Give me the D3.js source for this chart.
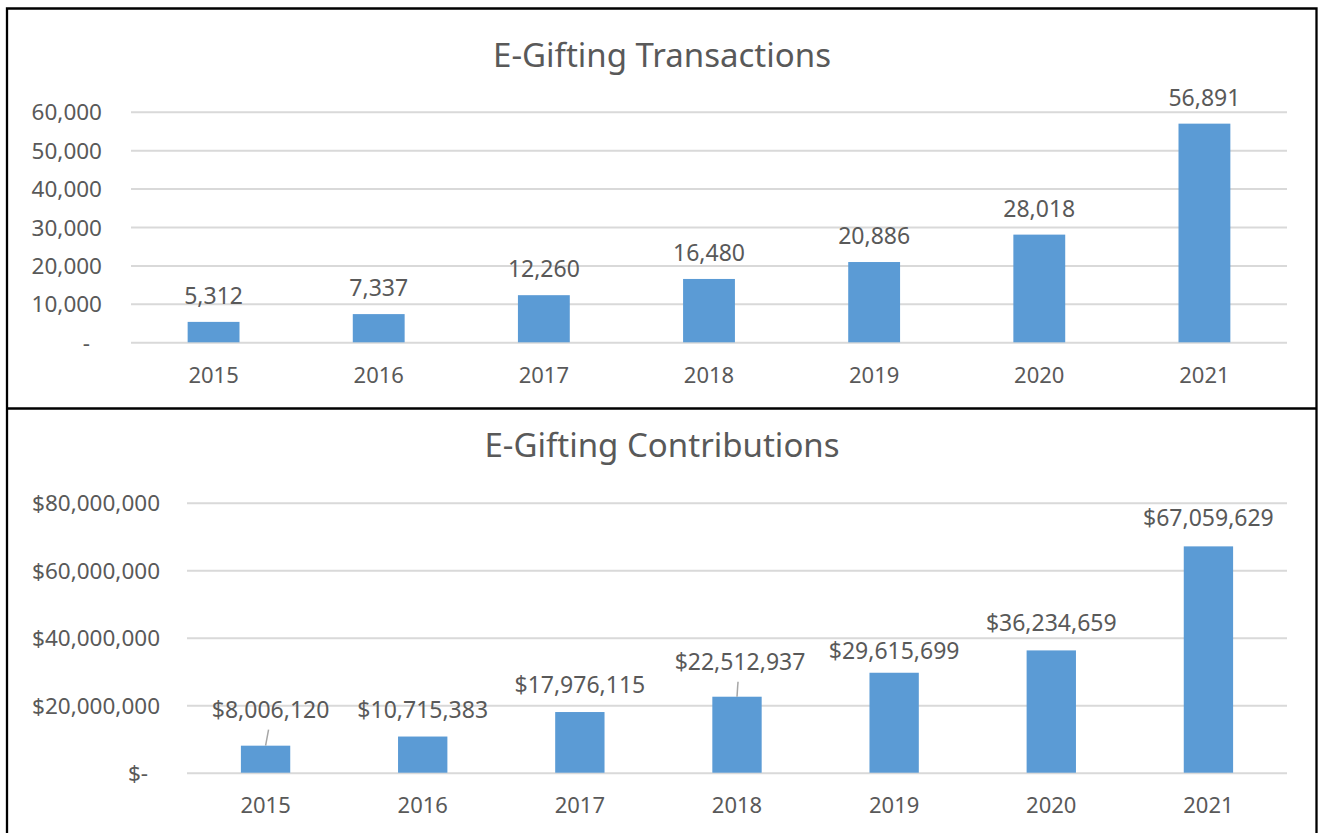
<!DOCTYPE html>
<html lang="en">

<head>
    <meta charset="UTF-8">
    <title>E-Gifting</title>
    <style>
        body { margin: 0; background: #fff; }
        svg text { font-family: "Noto Sans", "Open Sans", sans-serif; fill: #595959; }
    </style>
</head>

<body>

    <svg id="chart" width="1321" height="833"></svg>

    <script src="https://d3js.org/d3.v7.min.js"></script>

    <script>

        // data

        var years = ["2015", "2016", "2017", "2018", "2019", "2020", "2021"];
        var transactions = [5312, 7337, 12260, 16480, 20886, 28018, 56891];
        var contributions = [8006120, 10715383, 17976115, 22512937, 29615699, 36234659, 67059629];
        var transactionTicks = [0, 10000, 20000, 30000, 40000, 50000, 60000];
        var contributionTicks = [0, 20000000, 40000000, 60000000, 80000000];

        var svg = d3.select("#chart");
        var comma = d3.format(",");

        // panel borders
        svg.append("rect").attr("x", 0).attr("y", 0).attr("width", 1321).attr("height", 833).attr("fill", "#fff");
        svg.append("path")
            .attr("d", "M7,850 L7,8.5 L1316.5,8.5 L1316.5,850 M7,408.5 L1316.5,408.5")
            .attr("fill", "none")
            .attr("stroke", "#000")
            .attr("stroke-width", 2.3);

        // draws one bar chart
        function drawChart(c) {
            var g = svg.append("g");

            var x = d3.scaleBand()
                .domain(years)
                .range([c.left, c.right])
                .paddingInner(0.686)
                .paddingOuter(0.343);

            var y = d3.scaleLinear()
                .domain([0, c.max])
                .range([c.bottom, c.top]);

            // title
            g.append("text")
                .attr("x", 662)
                .attr("y", c.titleY)
                .attr("text-anchor", "middle")
                .style("font-size", "33px")
                .text(c.title);

            // y axis: gridlines and labels
            var yAxis = d3.axisLeft(y)
                .tickValues(c.ticks)
                .tickSize(-(c.right - c.left))
                .tickPadding(c.left - c.labelRight)
                .tickFormat(c.tickFormat);

            var ya = g.append("g")
                .attr("transform", "translate(" + c.left + ",0)")
                .call(yAxis);
            ya.select(".domain").remove();
            ya.selectAll("line").attr("stroke", "#d9d9d9").attr("stroke-width", 2);
            ya.selectAll("text")
                .style("font-size", "22.5px")
                .attr("dy", "0.36em")
                .attr("dx", function(d) { return d === 0 ? -12 : 0; });

            // x axis labels
            var xAxis = d3.axisBottom(x).tickSize(0).tickPadding(0);
            var xa = g.append("g")
                .attr("transform", "translate(0," + c.bottom + ")")
                .call(xAxis);
            xa.select(".domain").remove();
            xa.selectAll("text")
                .attr("dy", null)
                .attr("y", c.catY - c.bottom)
                .style("font-size", "22px");

            var rows = years.map(function(yr, i) { return { year: yr, value: c.values[i] }; });

            // bars
            g.selectAll("rect.bar")
                .data(rows)
                .enter().append("rect")
                .attr("class", "bar")
                .attr("x", function(d) { return x(d.year); })
                .attr("width", x.bandwidth())
                .attr("y", function(d) { return y(d.value); })
                .attr("height", function(d) { return c.bottom - y(d.value); })
                .attr("fill", "#5b9bd5");

            // leader lines for the labels that were dragged up
            function nudge(d) { return c.nudges[d.year] || {}; }
            function lift(d) { var n = nudge(d); return n.lift != null ? n.lift : c.lift; }
            function lx(d) { return x(d.year) + x.bandwidth() / 2 + (nudge(d).dx || 0); }

            g.selectAll("line.leader")
                .data(rows.filter(function(d) { return nudge(d).leader; }))
                .enter().append("line")
                .attr("class", "leader")
                .attr("x1", function(d) { return lx(d) - 2; })
                .attr("y1", function(d) { return y(d.value) - lift(d) + 12; })
                .attr("x2", function(d) { return x(d.year) + x.bandwidth() / 2; })
                .attr("y2", function(d) { return y(d.value); })
                .attr("stroke", "#a6a6a6")
                .attr("stroke-width", 1.5);

            // data labels
            g.selectAll("text.value")
                .data(rows)
                .enter().append("text")
                .attr("class", "value")
                .attr("x", lx)
                .attr("y", function(d) { return y(d.value) - lift(d); })
                .attr("text-anchor", "middle")
                .style("font-size", "23px")
                .text(function(d) { return c.labelFormat(d.value); });
        }

        drawChart({
            title: "E-Gifting Transactions",
            titleY: 67,
            values: transactions,
            ticks: transactionTicks,
            max: 60000,
            left: 131, right: 1287,
            top: 111.7, bottom: 342.3,
            labelRight: 102,
            catY: 383,
            lift: 18,
            nudges: {},
            tickFormat: function(v) { return v === 0 ? "-" : comma(v); },
            labelFormat: function(v) { return comma(v); }
        });

        drawChart({
            title: "E-Gifting Contributions",
            titleY: 457,
            values: contributions,
            ticks: contributionTicks,
            max: 80000000,
            left: 187, right: 1287,
            top: 502.7, bottom: 772.7,
            labelRight: 160,
            catY: 813,
            lift: 19,
            nudges: {
                "2015": { dx: 5, lift: 28, leader: true },
                "2018": { dx: 3, lift: 27, leader: true },
                "2019": { lift: 14 },
                "2021": { lift: 20 }
            },
            tickFormat: function(v) { return v === 0 ? "$-" : "$" + comma(v); },
            labelFormat: function(v) { return "$" + comma(v); }
        });

    </script>

</body>

</html>
